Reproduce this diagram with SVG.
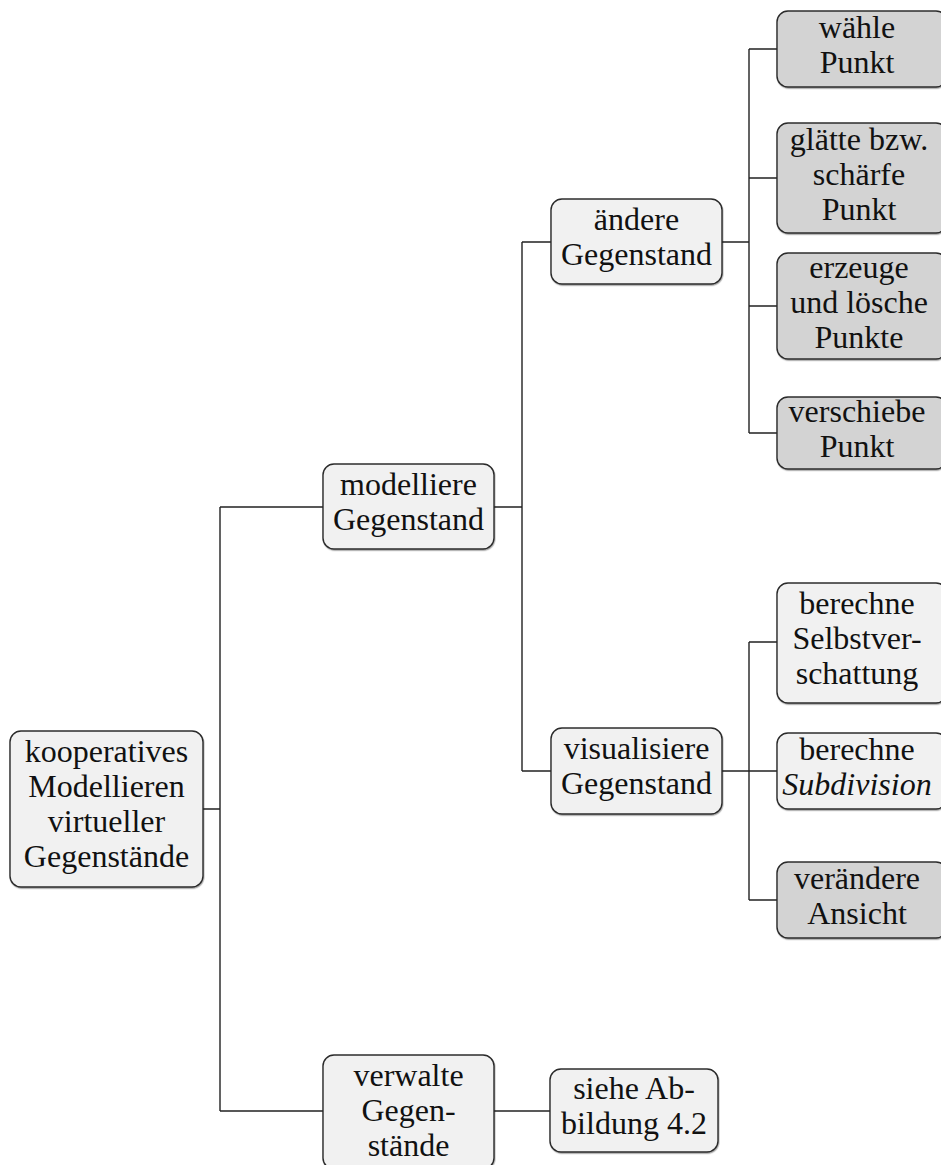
<svg xmlns="http://www.w3.org/2000/svg" width="941" height="1165" viewBox="0 0 941 1165">
  <style>
    .box { stroke: #2b2b2b; stroke-width: 1.4; filter: url(#shadow); }
    .light { fill: #f1f1f1; }
    .dark { fill: #d3d3d3; }
    text { font-family: "Liberation Serif", "Times New Roman", serif; font-size: 32px; fill: #111; text-anchor: middle; }
    .it { font-style: italic; }
    #connectors path { fill: none; stroke: #222; stroke-width: 1.4; }
  </style>
  <defs>
    <filter id="shadow" x="-5%" y="-5%" width="110%" height="115%">
      <feDropShadow dx="0.6" dy="1.2" stdDeviation="0.6" flood-color="#000" flood-opacity="0.35"/>
    </filter>
  </defs>
  <rect width="941" height="1165" fill="#fff"/>

  <!-- tree connectors -->
  <g id="connectors">
    <path d="M203 809 H220 M220 507 V1111 M220 507 H323 M220 1111 H323"/>
    <path d="M494 507 H522 M522 242 V771 M522 242 H551 M522 771 H551"/>
    <path d="M722 242 H749 M749 49 V433 M749 49 H777 M749 178 H777 M749 306 H777 M749 433 H777"/>
    <path d="M722 771 H777 M749 642 V900 M749 642 H777 M749 900 H777"/>
    <path d="M494 1111 H550"/>
  </g>

  <g id="root">
    <rect class="box light" x="10" y="731" width="193" height="156" rx="11"/>
    <text x="106.5" y="762">kooperatives</text>
    <text x="106.5" y="797">Modellieren</text>
    <text x="106.5" y="832">virtueller</text>
    <text x="106.5" y="867">Gegenstände</text>
  </g>

  <g id="modelliere">
    <rect class="box light" x="323" y="464" width="171" height="85" rx="11"/>
    <text x="408.5" y="495">modelliere</text>
    <text x="408.5" y="530">Gegenstand</text>
  </g>

  <g id="verwalte">
    <rect class="box light" x="323" y="1055" width="171" height="114" rx="11"/>
    <text x="408.5" y="1086">verwalte</text>
    <text x="408.5" y="1121">Gegen-</text>
    <text x="408.5" y="1156">stände</text>
  </g>

  <g id="siehe">
    <rect class="box light" x="550" y="1069" width="168" height="83" rx="11"/>
    <text x="634" y="1099">siehe Ab-</text>
    <text x="634" y="1134">bildung 4.2</text>
  </g>

  <g id="aendere">
    <rect class="box light" x="551" y="199" width="171" height="85" rx="11"/>
    <text x="636.5" y="230">ändere</text>
    <text x="636.5" y="265">Gegenstand</text>
  </g>

  <g id="visualisiere">
    <rect class="box light" x="551" y="728" width="171" height="86" rx="11"/>
    <text x="636.5" y="759">visualisiere</text>
    <text x="636.5" y="794">Gegenstand</text>
  </g>

  <g id="waehle">
    <rect class="box dark" x="777" y="11" width="170" height="76" rx="11"/>
    <text x="857" y="38">wähle</text>
    <text x="857" y="73">Punkt</text>
  </g>

  <g id="glaette">
    <rect class="box dark" x="777" y="123" width="170" height="110" rx="11"/>
    <text x="859" y="150">glätte bzw.</text>
    <text x="859" y="185">schärfe</text>
    <text x="859" y="220">Punkt</text>
  </g>

  <g id="erzeuge">
    <rect class="box dark" x="777" y="253" width="170" height="106" rx="11"/>
    <text x="859" y="278">erzeuge</text>
    <text x="859" y="313">und lösche</text>
    <text x="859" y="348">Punkte</text>
  </g>

  <g id="verschiebe">
    <rect class="box dark" x="777" y="397" width="170" height="72" rx="11"/>
    <text x="857" y="422">verschiebe</text>
    <text x="857" y="457">Punkt</text>
  </g>

  <g id="selbstverschattung">
    <rect class="box light" x="777" y="583" width="170" height="120" rx="11"/>
    <text x="857" y="614">berechne</text>
    <text x="857" y="649">Selbstver-</text>
    <text x="857" y="684">schattung</text>
  </g>

  <g id="subdivision">
    <rect class="box light" x="777" y="733" width="170" height="76" rx="11"/>
    <text x="857" y="760">berechne</text>
    <text x="857" y="795" class="it">Subdivision</text>
  </g>

  <g id="ansicht">
    <rect class="box dark" x="777" y="862" width="170" height="76" rx="11"/>
    <text x="857" y="889">verändere</text>
    <text x="857" y="924">Ansicht</text>
  </g>
</svg>
